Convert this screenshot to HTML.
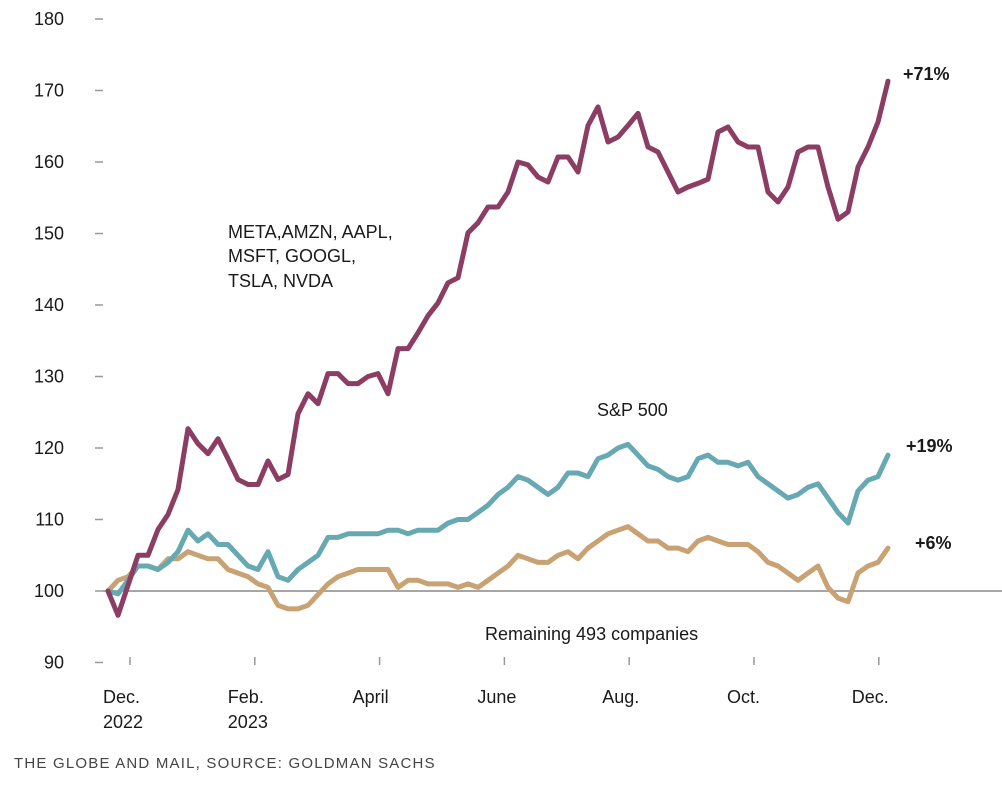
<!DOCTYPE html>
<html><head><meta charset="utf-8"><style>
body{margin:0;background:#fff;width:1002px;height:783px;overflow:hidden;font-family:"Liberation Sans",sans-serif}
svg text{font-family:"Liberation Sans",sans-serif;fill:#1a1a1a}
</style></head><body>
<svg id="chart" width="1002" height="783" xmlns="http://www.w3.org/2000/svg"></svg>
<script>
const yTicks=[90,100,110,120,130,140,150,160,170,180];
const monthLabels=[["Dec.","2022"],["Feb.","2023"],["April"],["June"],["Aug."],["Oct."],["Dec."]];
const monthPos=[0.5,2.5,4.5,6.5,8.5,10.5,12.5];
const megaCap=[100,96.6,100.8,105,105,108.6,110.7,114.2,122.7,120.6,119.2,121.3,118.5,115.6,114.9,114.9,118.2,115.6,116.3,124.8,127.6,126.2,130.4,130.4,129,129,130,130.4,127.6,133.9,133.9,136.1,138.5,140.3,143.1,143.8,150.1,151.5,153.7,153.7,155.8,160,159.6,157.9,157.2,160.7,160.7,158.6,165.1,167.7,162.8,163.5,165.1,166.8,162.1,161.4,158.6,155.8,156.5,157,157.6,164.2,164.9,162.8,162.1,162.1,155.8,154.4,156.5,161.4,162.1,162.1,156.5,152,153,159.3,162.1,165.6,171.3];
const sp500=[100,99.6,101.5,103.5,103.5,103,104,105.5,108.5,107,108,106.5,106.5,105,103.5,103,105.5,102,101.5,103,104,105,107.5,107.5,108,108,108,108,108.5,108.5,108,108.5,108.5,108.5,109.5,110,110,111,112,113.5,114.5,116,115.5,114.5,113.5,114.5,116.5,116.5,116,118.5,119,120,120.5,119,117.5,117,116,115.5,116,118.5,119,118,118,117.5,118,116,115,114,113,113.5,114.5,115,113,111,109.5,114,115.5,116,119];
const remaining=[100,101.5,102,103.5,103.5,103,104.5,104.5,105.5,105,104.5,104.5,103,102.5,102,101,100.5,98,97.5,97.5,98,99.5,101,102,102.5,103,103,103,103,100.5,101.5,101.5,101,101,101,100.5,101,100.5,101.5,102.5,103.5,105,104.5,104,104,105,105.5,104.5,106,107,108,108.5,109,108,107,107,106,106,105.5,107,107.5,107,106.5,106.5,106.5,105.5,104,103.5,102.5,101.5,102.5,103.5,100.5,99,98.5,102.5,103.5,104,106];
const NS="http://www.w3.org/2000/svg";
const svg=document.getElementById('chart');
function y(v){return 591-(v-100)*7.15;}
function xi(i,n){return 108+i*(780/(n-1));}
function xm(m){return 130+(m-0.5)*62.4;}
function mk(tag,attrs,parent){const e=document.createElementNS(NS,tag);for(const k in attrs)e.setAttribute(k,attrs[k]);(parent||svg).appendChild(e);return e;}
function txt(s,x,yy,attrs){const t=mk('text',Object.assign({x:x,y:yy,'font-size':18},attrs||{}));t.textContent=s;return t;}
yTicks.forEach(v=>{
  const l=txt(String(v),64,y(v)+6,{'text-anchor':'end'});
  
  
  const t=mk('line',{x1:95,x2:103,y1:y(v),y2:y(v),stroke:'#999','stroke-width':1.5});
  
  
});
const base=mk('line',{x1:103,x2:1002,y1:y(100),y2:y(100),stroke:'#888','stroke-width':1.5});


monthPos.forEach((m,i)=>{
  const x=xm(m);
  const t=mk('line',{x1:x,x2:x,y1:657,y2:665,stroke:'#999','stroke-width':1.5});
  
  
  monthLabels[i].forEach((s,j)=>{
    const l=txt(s,x-27+(monthLabels[i].length==1?0:0),703+j*25,{});
    
    
  });
});
function series(arr,color,name){
  const d=arr.map((v,i)=>(i?'L':'M')+xi(i,arr.length).toFixed(1)+','+y(v).toFixed(1)).join('');
  const p=mk('path',{d:d,fill:'none',stroke:color,'stroke-width':5,'stroke-linejoin':'round','stroke-linecap':'round'});
  
  
}
series(remaining,'#c9a273','remaining-493-line');
series(sp500,'#67a9b3','sp500-line');
series(megaCap,'#8c3d63','magnificent-seven-line');
const lab=[["META,AMZN, AAPL,",228,238],["MSFT, GOOGL,",228,262],["TSLA, NVDA",228,287]];
lab.forEach(a=>{const l=txt(a[0],a[1],a[2]);});
let l=txt('S&P 500',597,416);
l=txt('Remaining 493 companies',485,640);
l=txt('+71%',903,80,{'font-weight':'bold'});
l=txt('+19%',906,452,{'font-weight':'bold'});
l=txt('+6%',915,549,{'font-weight':'bold'});
l=txt('THE GLOBE AND MAIL, SOURCE: GOLDMAN SACHS',14,768,{'font-size':15,'letter-spacing':'1.2','fill':'#444'});
l.setAttribute('fill','#444');l.style.fill='#444';

</script>
</body></html>
